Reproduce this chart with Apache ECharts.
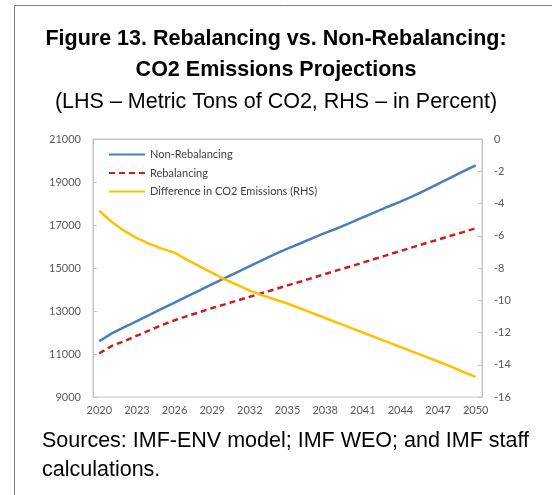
<!DOCTYPE html>
<html>
<head>
<meta charset="utf-8">
<script src="https://cdn.jsdelivr.net/npm/echarts@6/dist/echarts.min.js"></script>
<style>
  html, body { margin: 0; padding: 0; background: #fff; }
  #main { width: 552px; height: 495px; }
</style>
</head>
<body>
<div id="main"></div>
<script>
// years on the category axis
var years = [];
for (var y = 2020; y <= 2050; y++) years.push(String(y));

// LHS - metric tons of CO2
var nonRebalancing = [11590, 11960, 12250, 12530, 12820, 13110, 13390, 13680, 13960, 14250,
  14530, 14810, 15090, 15370, 15650, 15900, 16140, 16390, 16630, 16850,
  17100, 17350, 17600, 17850, 18090, 18340, 18620, 18910, 19200, 19490, 19770];
var rebalancing = [11030, 11380, 11600, 11850, 12100, 12350, 12570, 12760, 12950, 13140,
  13310, 13490, 13660, 13840, 14010, 14190, 14360, 14540, 14720, 14900,
  15070, 15250, 15430, 15610, 15790, 15970, 16150, 16320, 16500, 16670, 16850];
// RHS - percent
var difference = [-4.45, -5.15, -5.7, -6.15, -6.5, -6.8, -7.05, -7.5, -7.9, -8.3,
  -8.7, -9.05, -9.4, -9.7, -9.95, -10.2, -10.5, -10.8, -11.1, -11.4,
  -11.7, -12.0, -12.3, -12.6, -12.9, -13.2, -13.5, -13.8, -14.1, -14.45, -14.75];

var chart = echarts.init(document.getElementById('main'));

var tickFont = { color: '#595959', fontFamily: 'Lato', fontSize: 11 };
var headFont = 'Liberation Sans';

var option = {
  animation: false,
  title: [
    {
      text: 'Figure 13. Rebalancing vs. Non-Rebalancing:',
      left: 'center', top: 23,
      textStyle: { fontFamily: headFont, fontWeight: 'bold', fontSize: 21.5, color: '#000' }
    },
    {
      text: 'CO2 Emissions Projections',
      left: 'center', top: 54,
      textStyle: { fontFamily: headFont, fontWeight: 'bold', fontSize: 21.5, color: '#000' }
    },
    {
      text: '(LHS \u2013 Metric Tons of CO2, RHS \u2013 in Percent)',
      left: 'center', top: 86,
      textStyle: { fontFamily: headFont, fontWeight: 'normal', fontSize: 21.5, color: '#000' }
    },
    {
      text: 'Sources: IMF-ENV model; IMF WEO; and IMF staff\ncalculations.',
      left: 37, top: 422,
      textStyle: { fontFamily: headFont, fontWeight: 'normal', fontSize: 21.5, lineHeight: 29, color: '#000' }
    }
  ],
  graphic: [
    { type: 'line', shape: { x1: 14.5, y1: 5.5, x2: 552, y2: 5.5 }, style: { stroke: '#808080', lineWidth: 1 } },
    { type: 'line', shape: { x1: 14.5, y1: 5.5, x2: 14.5, y2: 495 }, style: { stroke: '#808080', lineWidth: 1 } }
  ],
  legend: {
    orient: 'vertical',
    left: 103, top: 144,
    itemWidth: 36, itemHeight: 10, itemGap: 7.5,
    itemStyle: { opacity: 0 },
    textStyle: { color: '#404040', fontFamily: 'Lato', fontSize: 11 },
    data: ['Non-Rebalancing', 'Rebalancing', 'Difference in CO2 Emissions (RHS)']
  },
  grid: {
    left: 93, right: 70, top: 139, bottom: 98,
    show: true, borderColor: '#c4c4c4', borderWidth: 1
  },
  xAxis: {
    type: 'category',
    data: years,
    boundaryGap: true,
    axisLine: { lineStyle: { color: '#c4c4c4', width: 1 } },
    axisTick: { inside: true, length: 4, interval: 1, lineStyle: { color: '#c4c4c4' } },
    axisLabel: Object.assign({ interval: 2, margin: 8 }, tickFont),
    splitLine: { show: false }
  },
  yAxis: [
    {
      type: 'value', min: 9000, max: 21000, interval: 2000,
      axisLine: { show: true, lineStyle: { color: '#c4c4c4' } },
      axisTick: { show: true, inside: true, length: 4, lineStyle: { color: '#c4c4c4' } },
      axisLabel: Object.assign({ margin: 12, formatter: function (v) { return String(v); } }, tickFont),
      splitLine: { show: false }
    },
    {
      type: 'value', min: -16, max: 0, interval: 2,
      axisLine: { show: true, lineStyle: { color: '#c4c4c4' } },
      axisTick: { show: true, inside: true, length: 4, lineStyle: { color: '#c4c4c4' } },
      axisLabel: Object.assign({ margin: 12 }, tickFont),
      splitLine: { show: false }
    }
  ],
  series: [
    {
      name: 'Non-Rebalancing', type: 'line', yAxisIndex: 0,
      data: nonRebalancing, symbol: 'none',
      lineStyle: { color: '#4a7ebb', width: 2.5 },
      itemStyle: { color: '#4a7ebb' }
    },
    {
      name: 'Rebalancing', type: 'line', yAxisIndex: 0,
      data: rebalancing, symbol: 'none',
      lineStyle: { color: '#d01c1c', width: 2.5, type: [6, 4] },
      itemStyle: { color: '#d01c1c' }
    },
    {
      name: 'Difference in CO2 Emissions (RHS)', type: 'line', yAxisIndex: 1,
      data: difference, symbol: 'none',
      lineStyle: { color: '#ffc000', width: 2.5 },
      itemStyle: { color: '#ffc000' }
    }
  ]
};

chart.setOption(option);
</script>
</body>
</html>
